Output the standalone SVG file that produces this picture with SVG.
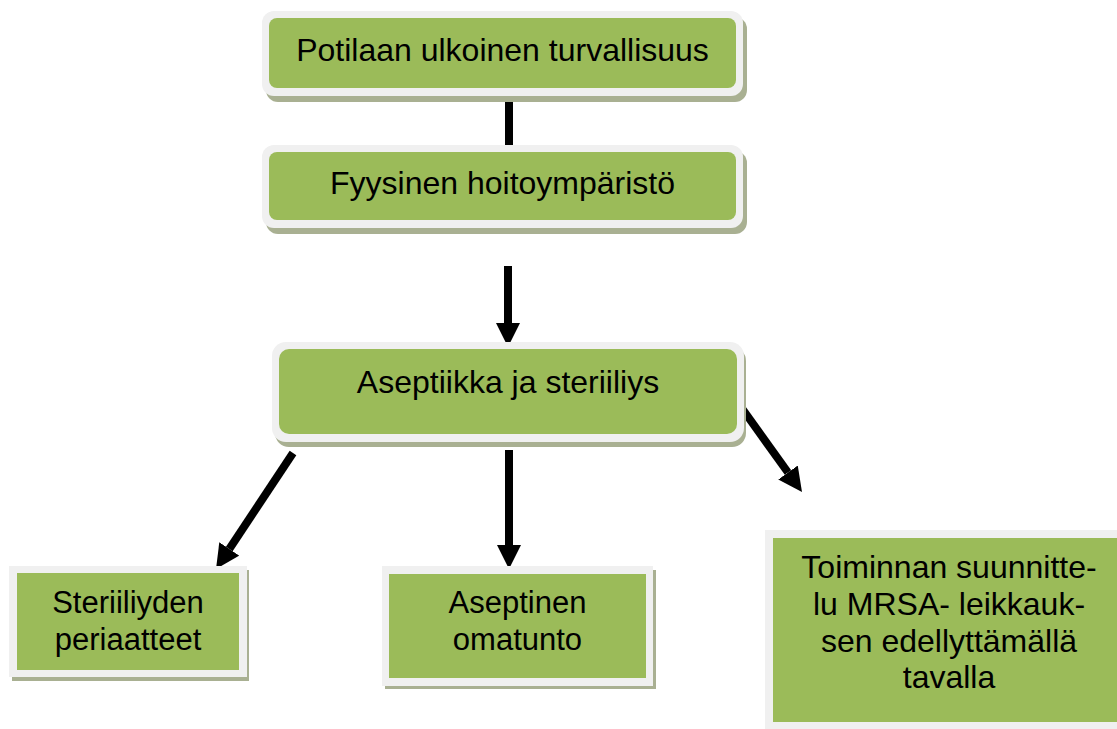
<svg xmlns="http://www.w3.org/2000/svg" width="1117" height="729" viewBox="0 0 1117 729">
<style>
.shadow{fill:#A9B092}
.frame{fill:#F0F0F0}
.fill{fill:#9BBB59}
.label{font-family:"Liberation Sans",Arial,sans-serif;font-size:32px;fill:#000;text-anchor:middle}
.small{font-size:31px}
.conn{stroke:#000;stroke-width:8;fill:none;stroke-linecap:butt}
</style>
<defs>
<marker id="head" markerUnits="strokeWidth" markerWidth="3" markerHeight="3" viewBox="0 0 3 3" refX="0" refY="1.5" orient="auto">
<path d="M0,0 L3,1.5 L0,3 z" fill="#000"/>
</marker>
</defs>
<rect width="1117" height="729" fill="#fff"/>
<g id="connectors">
<line class="conn" x1="509" y1="101" x2="509" y2="145"/>
<line class="conn" x1="508" y1="266" x2="508" y2="323" marker-end="url(#head)"/>
<line class="conn" x1="293" y1="453" x2="229.3" y2="549" marker-end="url(#head)"/>
<line class="conn" x1="509" y1="450" x2="509" y2="545" marker-end="url(#head)"/>
<line class="conn" x1="741" y1="407" x2="788" y2="472.5" marker-end="url(#head)"/>
</g>
<g id="node1">
<rect class="shadow" x="266" y="17" width="481" height="85" rx="12"/>
<rect class="frame" x="262" y="11" width="481" height="85" rx="12"/>
<rect class="fill" x="269" y="18" width="467" height="70" rx="8"/>
<text class="label" x="502.5" y="61">Potilaan ulkoinen turvallisuus</text>
</g>
<g id="node2">
<rect class="shadow" x="266" y="151" width="481" height="83" rx="12"/>
<rect class="frame" x="262" y="145" width="481" height="83" rx="12"/>
<rect class="fill" x="269" y="152" width="467" height="68" rx="8"/>
<text class="label" x="502.5" y="194">Fyysinen hoitoympäristö</text>
</g>
<g id="node3">
<rect class="shadow" x="275" y="347" width="471" height="100" rx="14"/>
<rect class="frame" x="272" y="342" width="472" height="100" rx="14"/>
<rect class="fill" x="279" y="349" width="458" height="85" rx="10"/>
<text class="label" x="508" y="393">Aseptiikka ja steriiliys</text>
</g>
<g id="node4">
<rect class="shadow" x="12" y="570" width="237" height="111"/>
<rect class="frame" x="9" y="566" width="238" height="111"/>
<rect class="fill" x="17" y="573" width="222" height="97"/>
<text class="label small" x="128" y="613">Steriiliyden</text>
<text class="label small" x="128" y="650">periaatteet</text>
</g>
<g id="node5">
<rect class="shadow" x="385" y="570" width="271" height="119"/>
<rect class="frame" x="382" y="566" width="271" height="120"/>
<rect class="fill" x="389" y="574" width="257" height="104"/>
<text class="label small" x="517.5" y="613">Aseptinen</text>
<text class="label small" x="517.5" y="650">omatunto</text>
</g>
<g id="node6">
<rect class="frame" x="765" y="530" width="360" height="199"/>
<rect class="fill" x="773" y="538" width="352" height="184"/>
<text class="label" x="949" y="578">Toiminnan suunnitte-</text>
<text class="label" x="949" y="615">lu MRSA- leikkauk-</text>
<text class="label" x="949" y="652">sen edellyttämällä</text>
<text class="label" x="949" y="688">tavalla</text>
</g>
</svg>
